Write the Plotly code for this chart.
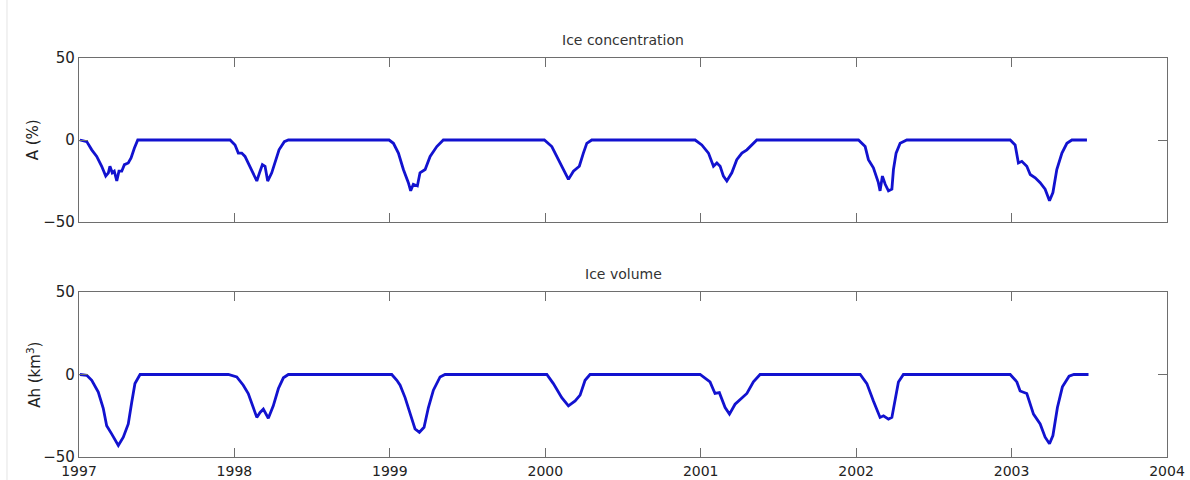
import plotly.graph_objects as go
from plotly.subplots import make_subplots

# Ice concentration anomaly A (%) against decimal year
conc_year = [
    1997.006, 1997.050, 1997.082, 1997.114, 1997.146, 1997.172, 1997.189, 1997.199, 1997.214,
    1997.227, 1997.243, 1997.257, 1997.275, 1997.292, 1997.317, 1997.335, 1997.356, 1997.378,
    1997.972, 1998.004, 1998.025, 1998.047, 1998.068, 1998.089, 1998.122, 1998.144, 1998.165,
    1998.180, 1998.197, 1998.214, 1998.240, 1998.261, 1998.287, 1998.321, 1998.347,
    1998.995, 1999.023, 1999.055, 1999.087, 1999.119, 1999.134, 1999.151, 1999.177, 1999.194,
    1999.227, 1999.259, 1999.302, 1999.344,
    1999.994, 2000.042, 2000.095, 2000.149, 2000.181, 2000.219, 2000.245, 2000.267, 2000.299,
    2000.964, 2001.007, 2001.050, 2001.082, 2001.104, 2001.125, 2001.146, 2001.168, 2001.200,
    2001.232, 2001.265, 2001.297, 2001.329, 2001.361,
    2002.015, 2002.058, 2002.079, 2002.111, 2002.143, 2002.154, 2002.169, 2002.187, 2002.208,
    2002.230, 2002.240, 2002.257, 2002.283, 2002.326,
    2002.991, 2003.023, 2003.044, 2003.066, 2003.098, 2003.120, 2003.152, 2003.184, 2003.216,
    2003.244, 2003.266, 2003.291, 2003.324, 2003.356, 2003.388, 2003.485,
]
conc_value = [
    0, -1, -6, -10, -16, -22, -20, -16, -20,
    -19, -25, -19, -19, -15, -14, -11, -5, 0,
    0, -3, -8, -8, -10, -14, -20, -25, -19,
    -15, -16, -25, -20, -14, -6, -1, 0,
    0, -2, -8, -18, -26, -31, -27, -28, -20,
    -18, -10, -4, 0,
    0, -4, -14, -24, -19, -16, -8, -2, 0,
    0, -3, -8, -16, -14, -16, -22, -25, -20,
    -12, -8, -6, -3, 0,
    0, -4, -12, -17, -26, -31, -22, -27, -31,
    -30, -18, -8, -2, 0,
    0, -3, -14, -13, -16, -21, -23, -26, -30,
    -37, -32, -18, -8, -2, 0, 0,
]

# Ice volume anomaly Ah (km^3) against decimal year
vol_year = [
    1997.006, 1997.050, 1997.082, 1997.124, 1997.156, 1997.178, 1997.210, 1997.243, 1997.253,
    1997.285, 1997.317, 1997.339, 1997.360, 1997.393,
    1997.961, 1998.015, 1998.057, 1998.089, 1998.122, 1998.144, 1998.165, 1998.186, 1998.218,
    1998.250, 1998.283, 1998.315, 1998.347,
    1999.012, 1999.045, 1999.066, 1999.098, 1999.130, 1999.162, 1999.190, 1999.220, 1999.248,
    1999.280, 1999.323, 1999.355,
    2000.010, 2000.052, 2000.106, 2000.149, 2000.192, 2000.224, 2000.256, 2000.288,
    2000.996, 2001.060, 2001.092, 2001.120, 2001.157, 2001.185, 2001.221, 2001.265, 2001.297,
    2001.339, 2001.382,
    2002.026, 2002.069, 2002.111, 2002.154, 2002.176, 2002.208, 2002.230, 2002.251, 2002.272,
    2002.304,
    2002.991, 2003.034, 2003.055, 2003.098, 2003.141, 2003.184, 2003.216, 2003.244, 2003.266,
    2003.295, 2003.327, 2003.370, 2003.401, 2003.495,
]
vol_value = [
    0, -0.5, -3.5, -10.6, -20.5, -31, -36, -41, -43,
    -38, -30, -17, -5.5, 0,
    0, -1.5, -6.5, -11.5, -20.5, -26, -23, -21, -26.5,
    -19, -8.5, -2, 0,
    0, -3.5, -6.5, -14, -24, -33, -35, -32, -20,
    -9.5, -1.5, 0,
    0, -5.5, -14, -19, -16, -12.5, -3.5, 0,
    0, -4.5, -11.5, -11, -20, -24, -18, -14, -11.5,
    -4.5, 0,
    0, -5.5, -16, -26, -25, -27, -26, -14, -4.5,
    0,
    0, -4.5, -10, -11.5, -24, -30, -38, -42, -37,
    -20, -7.5, -1, 0, 0,
]

year_ticks = [1997, 1998, 1999, 2000, 2001, 2002, 2003, 2004]
value_ticks = [-50, 0, 50]

LINE = "#1212cf"
FRAME = "#6e6e6e"
TEXT = "#222222"
FONT = "DejaVu Sans"

TOP_DOM = [0.5257, 0.8926]
BOT_DOM = [0.0, 0.3691]

fig = make_subplots(rows=2, cols=1, shared_xaxes=False, vertical_spacing=0.1)

fig.add_trace(go.Scatter(x=conc_year, y=conc_value, mode="lines",
                         line=dict(color=LINE, width=2.8), showlegend=False), row=1, col=1)
fig.add_trace(go.Scatter(x=vol_year, y=vol_value, mode="lines",
                         line=dict(color=LINE, width=2.8), showlegend=False), row=2, col=1)

axis_common = dict(
    showline=True, linecolor=FRAME, linewidth=1.3, mirror="allticks",
    ticks="inside", ticklen=9, tickcolor=FRAME, tickwidth=1,
    showgrid=False, zeroline=False, automargin=False,
    tickfont=dict(family=FONT, size=15, color=TEXT),
)

fig.update_xaxes(range=[1997, 2004], tickvals=year_ticks, **axis_common)
fig.update_xaxes(showticklabels=False, row=1, col=1)
fig.update_xaxes(ticktext=[str(y) for y in year_ticks], ticklabelstandoff=1,
                 tickfont=dict(family=FONT, size=14, color=TEXT), row=2, col=1)
fig.update_yaxes(range=[-50, 50], tickvals=value_ticks, **axis_common)

fig.update_layout(
    width=1190, height=480,
    margin=dict(l=79, r=23, t=10, b=23, autoexpand=False),
    plot_bgcolor="white", paper_bgcolor="white",
    font=dict(family=FONT, color=TEXT),
    xaxis=dict(domain=[0, 1]),
    yaxis=dict(domain=TOP_DOM),
    xaxis2=dict(domain=[0, 1]),
    yaxis2=dict(domain=BOT_DOM),
    annotations=[
        dict(text="Ice concentration", x=0.5, y=TOP_DOM[1], xref="paper", yref="paper",
             xanchor="center", yanchor="bottom", yshift=8, showarrow=False,
             font=dict(family=FONT, size=14, color="#333333")),
        dict(text="Ice volume", x=0.5, y=BOT_DOM[1], xref="paper", yref="paper",
             xanchor="center", yanchor="bottom", yshift=8, showarrow=False,
             font=dict(family=FONT, size=14, color="#333333")),
        dict(text="A (%)", x=-0.042, y=sum(TOP_DOM) / 2, xref="paper", yref="paper",
             textangle=-90, xanchor="center", yanchor="middle", showarrow=False,
             font=dict(family=FONT, size=15, color=TEXT)),
        dict(text="Ah (km<sup>3</sup>)", x=-0.042, y=sum(BOT_DOM) / 2, xref="paper", yref="paper",
             textangle=-90, xanchor="center", yanchor="middle", showarrow=False,
             font=dict(family=FONT, size=15, color=TEXT)),
    ],
    shapes=[
        dict(type="line", xref="paper", yref="paper", x0=-0.0662, x1=-0.0662,
             y0=-0.06, y1=1.03, line=dict(color="#e4e4e4", width=1)),
    ],
)

fig.write_html("out.html")
